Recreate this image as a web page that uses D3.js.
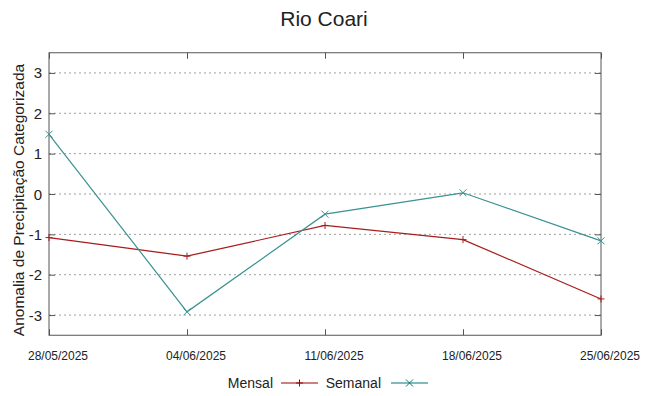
<html>
<head>
<meta charset="utf-8">
<script src="https://d3js.org/d3.v7.min.js"></script>
<style>
  body { margin: 0; background: #fff; }
  text { font-family: "Liberation Sans", Arial, sans-serif; fill: #222; }
</style>
</head>
<body>
<script>
// dados
var datas = ["28/05/2025", "04/06/2025", "11/06/2025", "18/06/2025", "25/06/2025"];
var mensal = [-1.08, -1.54, -0.78, -1.13, -2.6];
var semanal = [1.48, -2.92, -0.5, 0.03, -1.16];
var yTicks = [-3, -2, -1, 0, 1, 2, 3];

var W = 649, H = 396,
    pLeft = 49, pRight = 601, pTop = 52.75, pBottom = 335.25;

var svg = d3.select("body").append("svg")
    .attr("width", W)
    .attr("height", H);

var parse = d3.timeParse("%d/%m/%Y");
var x = d3.scaleTime()
    .domain([parse(datas[0]), parse(datas[datas.length - 1])])
    .range([pLeft, pRight]);
var y = d3.scaleLinear().domain([-3.5, 3.5]).range([pBottom, pTop]);

// grade pontilhada
svg.append("g").selectAll("line").data(yTicks).enter().append("line")
    .attr("x1", pLeft).attr("x2", pRight)
    .attr("y1", function(d) { return y(d); })
    .attr("y2", function(d) { return y(d); })
    .attr("stroke", "#a0a0a0")
    .attr("stroke-dasharray", "2,3");

// eixos com ticks para dentro (espelhados)
var tickAttr = function(g) {
  g.select(".domain").remove();
  g.selectAll("line").attr("stroke", "#555");
};
svg.append("g").attr("transform", "translate(" + pLeft + ",0)")
    .call(d3.axisLeft(y).tickValues(yTicks).tickSize(-6).tickFormat(""))
    .call(tickAttr);
svg.append("g").attr("transform", "translate(" + pRight + ",0)")
    .call(d3.axisRight(y).tickValues(yTicks).tickSize(-6).tickFormat(""))
    .call(tickAttr);
var xTicks = datas.map(parse);
svg.append("g").attr("transform", "translate(0," + pBottom + ")")
    .call(d3.axisBottom(x).tickValues(xTicks).tickSize(-6).tickFormat(""))
    .call(tickAttr);
svg.append("g").attr("transform", "translate(0," + pTop + ")")
    .call(d3.axisTop(x).tickValues(xTicks).tickSize(-6).tickFormat(""))
    .call(tickAttr);

// moldura
svg.append("rect")
    .attr("x", pLeft).attr("y", pTop)
    .attr("width", pRight - pLeft).attr("height", pBottom - pTop)
    .attr("fill", "none").attr("stroke", "#555");

// rótulos
svg.selectAll(".ylab").data(yTicks).enter().append("text")
    .attr("x", pLeft - 7)
    .attr("y", function(d) { return y(d) + 5.5; })
    .attr("text-anchor", "end")
    .style("font-size", "15px")
    .text(function(d) { return d; });

svg.selectAll(".xlab").data(datas).enter().append("text")
    .attr("x", function(d) { return x(parse(d)) + 9; })
    .attr("y", 360)
    .attr("text-anchor", "middle")
    .style("font-size", "12px")
    .text(function(d) { return d; });

svg.append("text")
    .attr("transform", "translate(24," + ((pTop + pBottom) / 2 + 6) + ") rotate(-90)")
    .attr("text-anchor", "middle")
    .style("font-size", "15.5px")
    .text("Anomalia de Precipitação Categorizada");

svg.append("text")
    .attr("x", 324).attr("y", 26)
    .attr("text-anchor", "middle")
    .style("font-size", "21px")
    .text("Rio Coari");

// séries
var series = [
  { nome: "Mensal", vals: mensal, cor: "#a81c1c", marca: "plus" },
  { nome: "Semanal", vals: semanal, cor: "#3a9292", marca: "cross" }
];

function marker(g, tipo, cx, cy, cor) {
  var s = 3.5;
  if (tipo === "plus") {
    g.append("path").attr("d", "M" + (cx - s) + "," + cy + "H" + (cx + s) + "M" + cx + "," + (cy - s) + "V" + (cy + s))
      .attr("stroke", cor).attr("fill", "none");
  } else {
    g.append("path").attr("d", "M" + (cx - s) + "," + (cy - s) + "L" + (cx + s) + "," + (cy + s) + "M" + (cx - s) + "," + (cy + s) + "L" + (cx + s) + "," + (cy - s))
      .attr("stroke", cor).attr("fill", "none");
  }
}

var line = d3.line()
    .x(function(d, i) { return x(parse(datas[i])); })
    .y(function(d) { return y(d); });

series.forEach(function(s) {
  var g = svg.append("g");
  g.append("path").attr("d", line(s.vals))
    .attr("fill", "none").attr("stroke", s.cor).attr("stroke-width", 1.2);
  s.vals.forEach(function(v, i) {
    marker(g, s.marca, x(parse(datas[i])), y(v), s.cor);
  });
});

// legenda
var leg = [
  { nome: "Mensal", tx: 273, x1: 281, x2: 318, cor: "#a00000", marca: "plus" },
  { nome: "Semanal", tx: 381, x1: 391, x2: 428, cor: "#007878", marca: "cross" }
];
leg.forEach(function(l) {
  svg.append("text").attr("x", l.tx).attr("y", 388)
    .attr("text-anchor", "end").style("font-size", "14px").text(l.nome);
  svg.append("line").attr("x1", l.x1).attr("x2", l.x2).attr("y1", 383).attr("y2", 383)
    .attr("stroke", l.cor).attr("stroke-width", 1.1);
  marker(svg.append("g"), l.marca, (l.x1 + l.x2) / 2, 383, l.cor);
});
</script>
</body>
</html>
